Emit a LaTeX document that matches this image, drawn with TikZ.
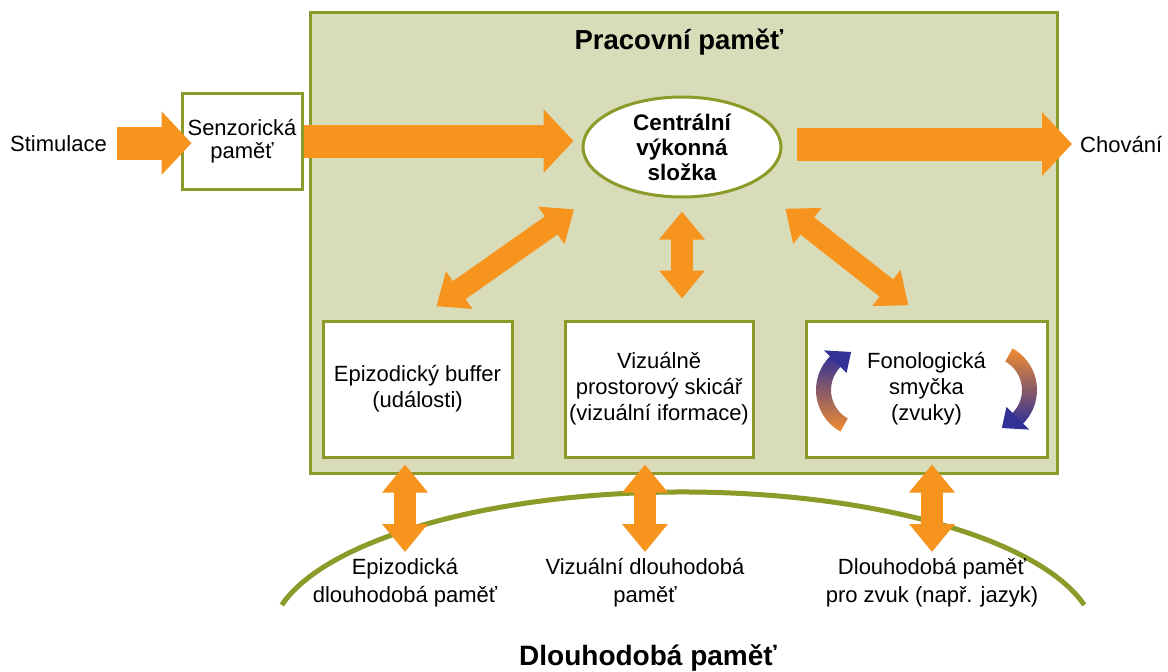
\documentclass[tikz,border=0pt]{standalone}
\usepackage{fontspec}
\setmainfont{Liberation Sans}
\usepackage{xcolor}
\usetikzlibrary{arrows.meta, calc, positioning, shapes.geometric}
\definecolor{wmfill}{RGB}{217, 220, 184}
\definecolor{wmline}{RGB}{139, 154, 40}
\definecolor{arrorange}{RGB}{247, 148, 30}
\definecolor{loopor}{RGB}{240, 140, 50}
\definecolor{loopblue}{RGB}{50, 50, 150}

\tikzset{
    membox/.style={draw=wmline, line width=3pt, fill=white, align=center, inner sep=0pt,
        font=\fontsize{22}{26}\selectfont},
    lbl/.style={align=center, inner sep=2pt, font=\fontsize{22}{28}\selectfont},
    bigarrow/.style={draw=arrorange, line width=33pt, -{Triangle[length=30pt,width=62pt]}},
    dblarrow/.style={draw=arrorange, line width=22pt,
        {Triangle[length=28pt,width=44pt]}-{Triangle[length=28pt,width=44pt]}},
}

\begin{document}
\begin{tikzpicture}[x=1pt, y=-1pt]
    \useasboundingbox (0,0) rectangle (1168,672);

    % Working memory frame
    \node[draw=wmline, line width=3pt, fill=wmfill, minimum width=747pt, minimum height=461pt,
        inner sep=0pt] (wm) at (683.5,242.5) {};
    \node[font=\bfseries\fontsize{27.5}{32}\selectfont, anchor=base] (wmtitle) at (679,49) {Pracovní paměť};

    % Input, sensory memory, central executive, output
    \node[lbl, anchor=base west] (stim) at (8,151) {Stimulace};
    \node[membox, minimum width=120pt, minimum height=96pt, font=\fontsize{22}{23}\selectfont]
        (sens) at (242,141) {Senzorická\\paměť};
    \node[ellipse, draw=wmline, line width=3pt, fill=white, minimum width=198pt, minimum height=100pt,
        inner sep=0pt, align=center, font=\bfseries\fontsize{22.5}{25}\selectfont]
        (cen) at (682,147) {Centrální\\výkonná\\složka};
    \node[lbl, anchor=base west] (chov) at (1078,152) {Chování};

    % Three subsystems
    \node[membox, minimum width=189pt, minimum height=136pt] (epi) at (417.5,389) {Epizodický buffer\\(události)};
    \node[membox, minimum width=188pt, minimum height=136pt] (vis) at (659,389) {Vizuálně\\prostorový skicář\\(vizuální iformace)};
    \node[membox, minimum width=241pt, minimum height=136pt] (fon) at (926.5,389) {Fonologická\\smyčka\\(zvuky)};

    % Rehearsal loop, left and right half
    \coordinate (lpl) at ($(fon.center)+(-63,1)$);
    \coordinate (lpr) at ($(fon.center)+(63,1)$);
    \shade[top color=loopblue, bottom color=loopor]
        (lpl) ++(119:47.5) arc[start angle=119, end angle=226, radius=47.5]
        -- ($(lpl)+(226:32.5)$) arc[start angle=226, end angle=119, radius=32.5] -- cycle;
    \fill[loopblue] ($(lpl)+(225:24)$) -- ($(lpl)+(225:56)$) -- ($(lpl)+(252:40)$) -- cycle;
    \shade[top color=loopor, bottom color=loopblue]
        (lpr) ++(-61:47.5) arc[start angle=-61, end angle=46, radius=47.5]
        -- ($(lpr)+(46:32.5)$) arc[start angle=46, end angle=-61, radius=32.5] -- cycle;
    \fill[loopblue] ($(lpr)+(45:24)$) -- ($(lpr)+(45:56)$) -- ($(lpr)+(72:40)$) -- cycle;

    % Long-term memory
    \draw[wmline, line width=5pt] (683,640) ++(-166.3:413 and 148)
        arc[start angle=-166.3, end angle=-13.7, x radius=413, y radius=148];
    \node[lbl, anchor=north] (ltmepi) at (405,556) {Epizodická\\dlouhodobá paměť};
    \node[lbl, anchor=north] (ltmvis) at (645,556) {Vizuální dlouhodobá\\paměť};
    \node[lbl, anchor=north] (ltmfon) at (932,556) {Dlouhodobá paměť\\pro zvuk (např. jazyk)};
    \node[font=\bfseries\fontsize{28}{32}\selectfont, anchor=base] (ltmtitle) at (648,665) {Dlouhodobá paměť};

    % Flow arrows
    \draw[bigarrow, shorten <=8pt, shorten >=-11pt] (stim.east) -- (stim.east -| sens.west);
    \draw[bigarrow, shorten >=8pt] (sens.east) -- (sens.east -| cen.west);
    \draw[bigarrow, shorten <=14pt, shorten >=6pt] (cen.east |- chov.west) -- (chov.west);

    % Exchange arrows
    \draw[dblarrow, shorten <=45pt, shorten >=23pt] (cen.south west) -- (epi.north);
    \draw[dblarrow, shorten <=13pt, shorten >=21pt] (cen.south) -- (cen.south |- vis.north);
    \draw[dblarrow, shorten <=41pt, shorten >=23pt] (cen.south east) -- (fon.north);
    \draw[dblarrow, shorten <=6pt, shorten >=4pt] (ltmepi.north |- epi.south) -- (ltmepi.north);
    \draw[dblarrow, shorten <=6pt, shorten >=4pt] (ltmvis.north |- vis.south) -- (ltmvis.north);
    \draw[dblarrow, shorten <=6pt, shorten >=4pt] (ltmfon.north |- fon.south) -- (ltmfon.north);
\end{tikzpicture}
\end{document}
